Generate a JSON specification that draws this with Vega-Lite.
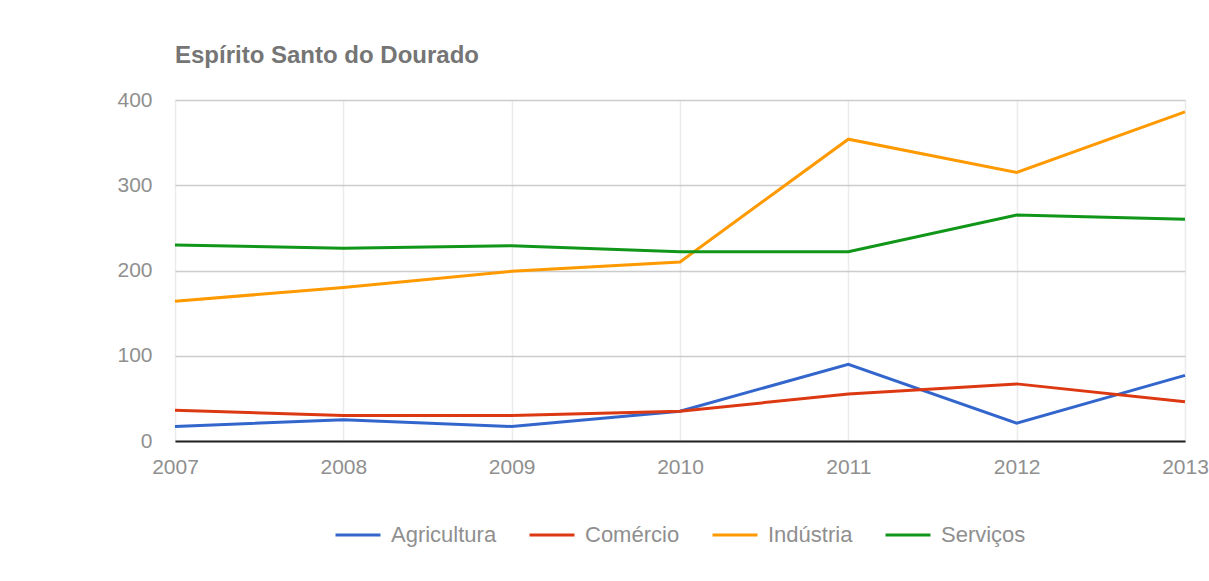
{
  "$schema": "https://vega.github.io/schema/vega-lite/v6.json",
  "autosize": "none",
  "width": 1010,
  "height": 341,
  "padding": {"left": 175, "top": 100, "right": 24, "bottom": 140},
  "background": "white",
  "title": {
    "text": "Espírito Santo do Dourado",
    "anchor": "start",
    "frame": "group",
    "font": "Liberation Sans",
    "fontSize": 24,
    "fontWeight": "bold",
    "color": "#757575",
    "offset": 21
  },
  "data": {
    "values": [
      {"ano": 2007, "setor": "Agricultura", "valor": 17},
      {"ano": 2008, "setor": "Agricultura", "valor": 25},
      {"ano": 2009, "setor": "Agricultura", "valor": 17},
      {"ano": 2010, "setor": "Agricultura", "valor": 35},
      {"ano": 2011, "setor": "Agricultura", "valor": 90},
      {"ano": 2012, "setor": "Agricultura", "valor": 21},
      {"ano": 2013, "setor": "Agricultura", "valor": 77},
      {"ano": 2007, "setor": "Comércio", "valor": 36},
      {"ano": 2008, "setor": "Comércio", "valor": 30},
      {"ano": 2009, "setor": "Comércio", "valor": 30},
      {"ano": 2010, "setor": "Comércio", "valor": 35},
      {"ano": 2011, "setor": "Comércio", "valor": 55},
      {"ano": 2012, "setor": "Comércio", "valor": 67},
      {"ano": 2013, "setor": "Comércio", "valor": 46},
      {"ano": 2007, "setor": "Indústria", "valor": 164},
      {"ano": 2008, "setor": "Indústria", "valor": 180},
      {"ano": 2009, "setor": "Indústria", "valor": 199},
      {"ano": 2010, "setor": "Indústria", "valor": 210},
      {"ano": 2011, "setor": "Indústria", "valor": 354},
      {"ano": 2012, "setor": "Indústria", "valor": 315},
      {"ano": 2013, "setor": "Indústria", "valor": 386},
      {"ano": 2007, "setor": "Serviços", "valor": 230},
      {"ano": 2008, "setor": "Serviços", "valor": 226},
      {"ano": 2009, "setor": "Serviços", "valor": 229},
      {"ano": 2010, "setor": "Serviços", "valor": 222},
      {"ano": 2011, "setor": "Serviços", "valor": 222},
      {"ano": 2012, "setor": "Serviços", "valor": 265},
      {"ano": 2013, "setor": "Serviços", "valor": 260}
    ]
  },
  "mark": {"type": "line", "strokeWidth": 3, "interpolate": "linear"},
  "encoding": {
    "x": {
      "field": "ano",
      "type": "quantitative",
      "scale": {"domain": [2007, 2013], "nice": false, "zero": false},
      "axis": {
        "title": null,
        "values": [2007, 2008, 2009, 2010, 2011, 2012, 2013],
        "format": "d",
        "ticks": false,
        "tickSize": 0,
        "labelPadding": 32,
        "labelBaseline": "alphabetic",
        "labelFont": "Liberation Sans",
        "labelFontSize": 21,
        "labelColor": "#8f8f8f",
        "labelFlush": false,
        "labelOverlap": false,
        "domain": true,
        "domainColor": "#222222",
        "domainWidth": 2,
        "grid": true,
        "gridColor": "#ebebeb",
        "gridWidth": 1.5
      }
    },
    "y": {
      "field": "valor",
      "type": "quantitative",
      "scale": {"domain": [0, 400], "nice": false},
      "axis": {
        "title": null,
        "values": [0, 100, 200, 300, 400],
        "ticks": false,
        "tickSize": 0,
        "labelPadding": 23,
        "labelFont": "Liberation Sans",
        "labelFontSize": 21,
        "labelColor": "#8f8f8f",
        "domain": false,
        "grid": true,
        "gridColor": "#cccccc",
        "gridWidth": 1.5,
        "zindex": 0
      }
    },
    "color": {
      "field": "setor",
      "type": "nominal",
      "scale": {
        "domain": ["Agricultura", "Comércio", "Indústria", "Serviços"],
        "range": ["#3366cc", "#dc3912", "#ff9900", "#109618"]
      },
      "legend": {
        "title": null,
        "orient": "none",
        "direction": "horizontal",
        "legendX": 159,
        "legendY": 411,
        "symbolType": "stroke",
        "symbolSize": 2025,
        "symbolStrokeWidth": 3,
        "labelFont": "Liberation Sans",
        "labelFontSize": 22,
        "labelColor": "#8f8f8f",
        "labelOffset": 9,
        "columnPadding": 26
      }
    }
  }
}
